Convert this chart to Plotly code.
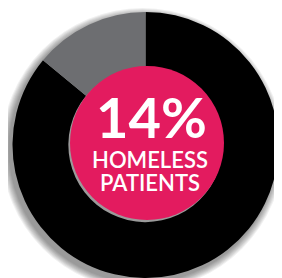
import plotly.graph_objects as go

labels = ["Other patients", "Homeless patients"]
values = [86, 14]
colors = ["#000000", "#6D6E71"]
center_big = "14%"
center_line1 = "HOMELESS"
center_line2 = "PATIENTS"

OFF = 8  # page body margin
W, H = 282 - OFF, 278 - OFF
def px(x): return (x - OFF) / W
def py(y): return 1 - (y - OFF) / H

fig = go.Figure()
fig.add_trace(go.Pie(
    labels=labels, values=values, hole=0.58, sort=False, direction="clockwise",
    rotation=0, marker=dict(colors=colors, line=dict(width=0)),
    textinfo="none", hoverinfo="label+percent", showlegend=False,
    domain=dict(x=[px(12.5), px(278.5)], y=[py(278), py(12)]),
))

shapes = []
# soft drop shadow (left / bottom)
cx, cy, r = 145.5, 145, 133
for i in range(8):
    rr = r + 1 + i
    ox, oy = -3, 4
    shapes.append(dict(type="circle", xref="paper", yref="paper", layer="below",
                       x0=px(cx + ox - rr), x1=px(cx + ox + rr),
                       y0=py(cy + oy + rr), y1=py(cy + oy - rr),
                       fillcolor="rgba(0,0,0,0.06)", line=dict(width=0)))
# pink centre disc
pcx, pcy, pr = 147, 143, 77
shapes.append(dict(type="circle", xref="paper", yref="paper", layer="above",
                   x0=px(pcx - pr), x1=px(pcx + pr), y0=py(pcy + pr), y1=py(pcy - pr),
                   fillcolor="#E31B5F", line=dict(width=0)))

fig.update_layout(
    width=W, height=H, margin=dict(l=0, r=0, t=0, b=0),
    paper_bgcolor="white", plot_bgcolor="white", shapes=shapes,
    annotations=[
        dict(text=center_big, x=px(151), y=py(116), xref="paper", yref="paper",
             showarrow=False, xanchor="center", yanchor="middle", height=54,
             font=dict(family="Lato", size=56, color="white", weight=700)),
        dict(text=center_line1, x=px(149.5), y=py(159), xref="paper", yref="paper",
             showarrow=False, xanchor="center", yanchor="middle", height=21,
             font=dict(family="Lato", size=22, color="white", weight=600)),
        dict(text=center_line2, x=px(149.5), y=py(182), xref="paper", yref="paper",
             showarrow=False, xanchor="center", yanchor="middle", height=21,
             font=dict(family="Lato", size=22, color="white", weight=600)),
    ],
)
fig.write_html("out.html")
